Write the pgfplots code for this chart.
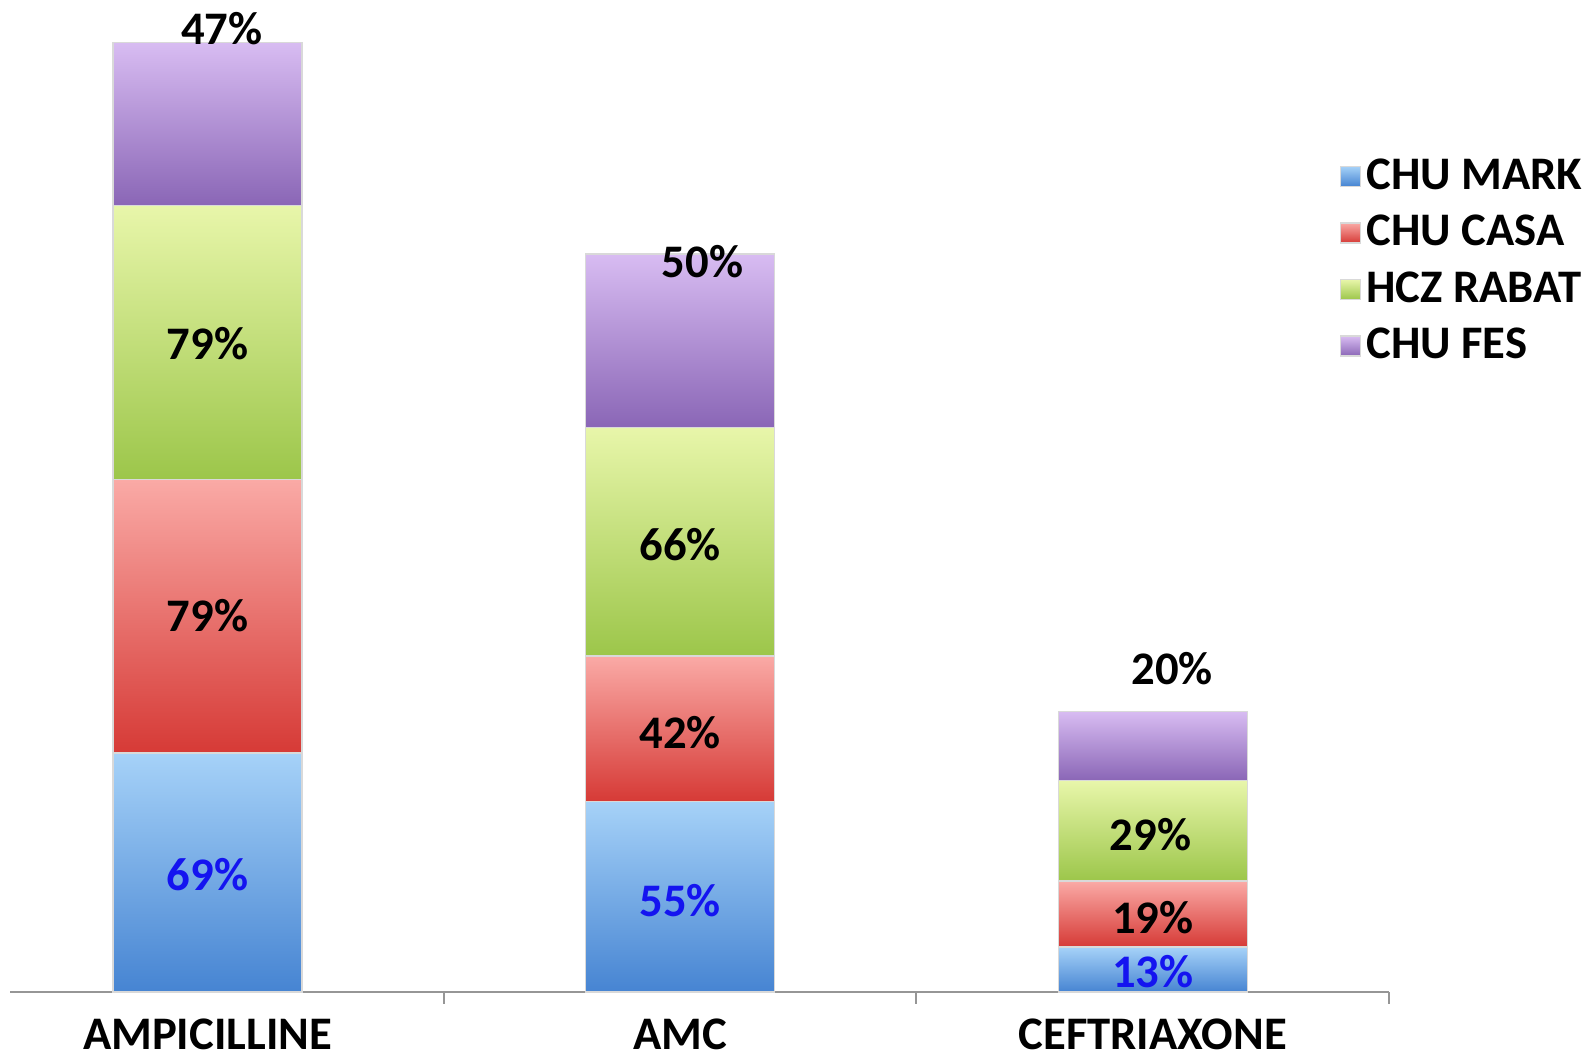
\documentclass[border=0pt]{standalone}
\usepackage{pgfplots}
\pgfplotsset{compat=1.18}
\usepackage{fontspec}
\setmainfont{Carlito}
\definecolor{bluetop}{RGB}{166,210,248}
\definecolor{bluebot}{RGB}{70,132,210}
\definecolor{redtop}{RGB}{250,170,166}
\definecolor{redbot}{RGB}{214,58,54}
\definecolor{greentop}{RGB}{232,246,170}
\definecolor{greenbot}{RGB}{156,198,74}
\definecolor{purptop}{RGB}{216,188,242}
\definecolor{purpbot}{RGB}{138,102,182}
\definecolor{lblblue}{RGB}{20,20,240}
\definecolor{axgray}{RGB}{150,150,150}
\newcommand\lbl{\fontsize{14}{17}\selectfont\bfseries}
\pgfplotsset{
  base/.style={
    scale only axis,
    width=413.7pt, height=297.6pt,
    xmin=-0.418, xmax=2.5,
    ymin=0, ymax=286.3,
    ybar stacked,
    bar width=0.4,
  },
  sblue/.style={top color=bluetop, bottom color=bluebot, draw=black!15},
  sred/.style={top color=redtop, bottom color=redbot, draw=black!15},
  sgreen/.style={top color=greentop, bottom color=greenbot, draw=black!15},
  spurp/.style={top color=purptop, bottom color=purpbot, draw=black!15},
}
\begin{document}
\begin{tikzpicture}
\path[use as bounding box] (-3pt,-18.9pt) rectangle (475.5pt,297.6pt);
% category 0, with axis line, labels and legend
\begin{axis}[
  base,
  axis x line*=bottom,
  axis y line=none,
  x axis line style={draw=axgray, line width=0.6pt},
  xtick={0,1,2},
  xticklabels={AMPICILLINE,AMC,CEFTRIAXONE},
  xtick style={draw=none},
  xtick align=outside,
  major tick length=3.5pt,
  extra x ticks={0.5,1.5,2.5},
  extra x tick labels={},
  extra x tick style={xtick style={draw=axgray, line width=0.6pt}},
  xticklabel style={font=\lbl, yshift=-1.1pt},
  legend style={at={(0.964,0.8476)}, anchor=north west, draw=none, fill=none,
    font=\lbl, row sep=2.3pt, inner sep=0pt, nodes={inner xsep=1.5pt}},
  legend cell align=left,
  legend image code/.code={\path[#1] (0pt,-3pt) rectangle (6pt,3pt);},
]
\addplot[sblue] coordinates {(0,69)};
\addplot[sred] coordinates {(0,79)};
\addplot[sgreen] coordinates {(0,79)};
\addplot[spurp] coordinates {(0,47)};
\legend{CHU MARK, CHU CASA, HCZ RABAT, CHU FES}
\end{axis}
% category 1
\begin{axis}[base, hide axis]
\addplot[sblue] coordinates {(1,55)};
\addplot[sred] coordinates {(1,42)};
\addplot[sgreen] coordinates {(1,66)};
\addplot[spurp] coordinates {(1,50)};
\end{axis}
% category 2
\begin{axis}[base, hide axis]
\addplot[sblue] coordinates {(2,13)};
\addplot[sred] coordinates {(2,19)};
\addplot[sgreen] coordinates {(2,29)};
\addplot[spurp] coordinates {(2,20)};
\end{axis}
% value labels
\begin{axis}[base, hide axis]
\node[font=\lbl, text=lblblue] at (axis cs:0,33.8) {69\%};
\node[font=\lbl] at (axis cs:0,108.7) {79\%};
\node[font=\lbl] at (axis cs:0,187) {79\%};
\node[font=\lbl] at (axis cs:0.03,278.1) {47\%};
\node[font=\lbl, text=lblblue] at (axis cs:1,26.4) {55\%};
\node[font=\lbl] at (axis cs:1,74.9) {42\%};
\node[font=\lbl] at (axis cs:1,129) {66\%};
\node[font=\lbl] at (axis cs:1.047,210.9) {50\%};
\node[font=\lbl, text=lblblue] at (axis cs:2,5.9) {13\%};
\node[font=\lbl] at (axis cs:2,21.4) {19\%};
\node[font=\lbl] at (axis cs:1.995,45.5) {29\%};
\node[font=\lbl] at (axis cs:2.041,93.4) {20\%};
\end{axis}
\end{tikzpicture}
\end{document}
